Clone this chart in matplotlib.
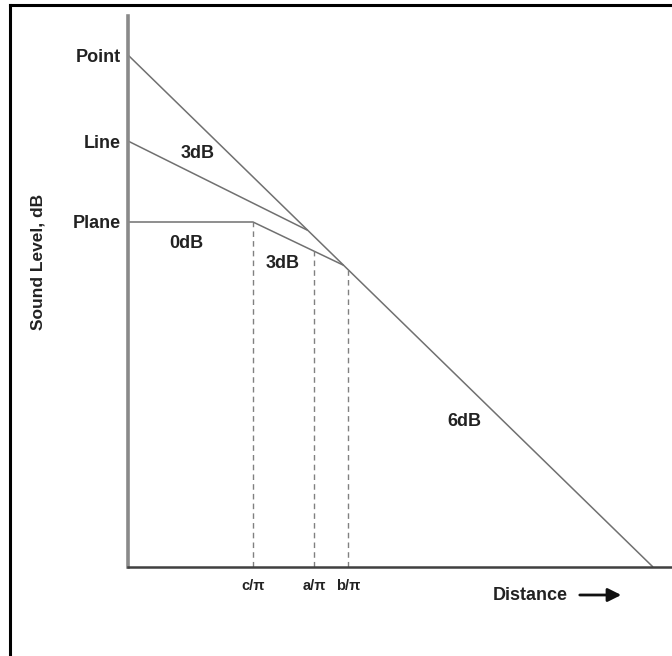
import numpy as np
import matplotlib
matplotlib.use("Agg")
import matplotlib.pyplot as plt
from matplotlib.lines import Line2D

plt.rcParams['font.family'] = ['Liberation Sans', 'DejaVu Sans']

# ---- data (arbitrary level / distance units) ----
source_labels = ["Point", "Line", "Plane"]
point_x = [0, 525]
point_y = [512, 0]
line_x = [0, 179]
line_y = [426, 337]
plane_x = [0, 125, 215]
plane_y = [345, 345, 302]
marker_x = [125, 186, 220]
marker_labels = ["c/\u03c0", "a/\u03c0", "b/\u03c0"]
slope_labels = ["3dB", "0dB", "3dB", "6dB"]
slope_label_x = [70, 58, 155, 336]
slope_label_y = [413, 324, 304, 145]

W, H = 672, 656
fig = plt.figure(figsize=(W / 100, H / 100), dpi=100)
ax = fig.add_axes([128 / W, (H - 567) / H, (W - 128) / W, (567 - 16) / H])
ax.set_xlim(0, 544)
ax.set_ylim(0, 551)

line_col = "#707070"
ax.plot(point_x, point_y, color=line_col, lw=1.1, solid_capstyle='butt')
ax.plot(line_x, line_y, color=line_col, lw=1.1)
ax.plot(plane_x, plane_y, color=line_col, lw=1.1)

# lower envelope: plane then point
env_x = plane_x + [point_x[-1]]
env_y = plane_y + [point_y[-1]]
tops = np.interp(marker_x, env_x, env_y)
for xd, yt in zip(marker_x, tops):
    ax.plot([xd, xd], [0, yt], color="#808080", lw=1.0, ls=(0, (4, 3)))

for s, xx, yy in zip(slope_labels, slope_label_x, slope_label_y):
    ax.text(xx, yy, s, fontsize=13, fontweight='bold', color='#222222',
            ha='center', va='center')

for sp in ['top', 'right']:
    ax.spines[sp].set_visible(False)
ax.spines['left'].set_color('#8a8a8a')
ax.spines['left'].set_linewidth(2.6)
ax.spines['bottom'].set_color('#404040')
ax.spines['bottom'].set_linewidth(1.8)

ax.set_yticks([point_y[0], line_y[0], plane_y[0]])
ax.set_yticklabels(source_labels, fontsize=13, fontweight='bold', color='#222222')
ax.set_xticks(marker_x)
ax.set_xticklabels(marker_labels, fontsize=10.5, fontweight='bold', color='#222222')
ax.tick_params(axis='y', length=0, pad=5)
ax.tick_params(axis='x', length=0, pad=9)

fig.text(38 / W, (H - 262) / H, "Sound Level, dB", rotation=90, fontsize=12.5,
         fontweight='bold', color='#222222', ha='center', va='center')
fig.text(530 / W, (H - 596) / H, "Distance", fontsize=13, fontweight='bold',
         color='#222222', ha='center', va='center')
ax.annotate("", xy=(624, H - 595), xytext=(577, H - 595),
            xycoords='figure pixels', textcoords='figure pixels',
            arrowprops=dict(arrowstyle='-|>', color='#111111', lw=2,
                            mutation_scale=20))

# frame (left and top edges)
fig.add_artist(Line2D([10 / W, 10 / W], [0, (H - 5) / H], transform=fig.transFigure,
                      color='black', lw=2.2))
fig.add_artist(Line2D([10 / W, 1], [(H - 5) / H, (H - 5) / H], transform=fig.transFigure,
                      color='black', lw=2.2))

fig.savefig("out.png", dpi=100)
